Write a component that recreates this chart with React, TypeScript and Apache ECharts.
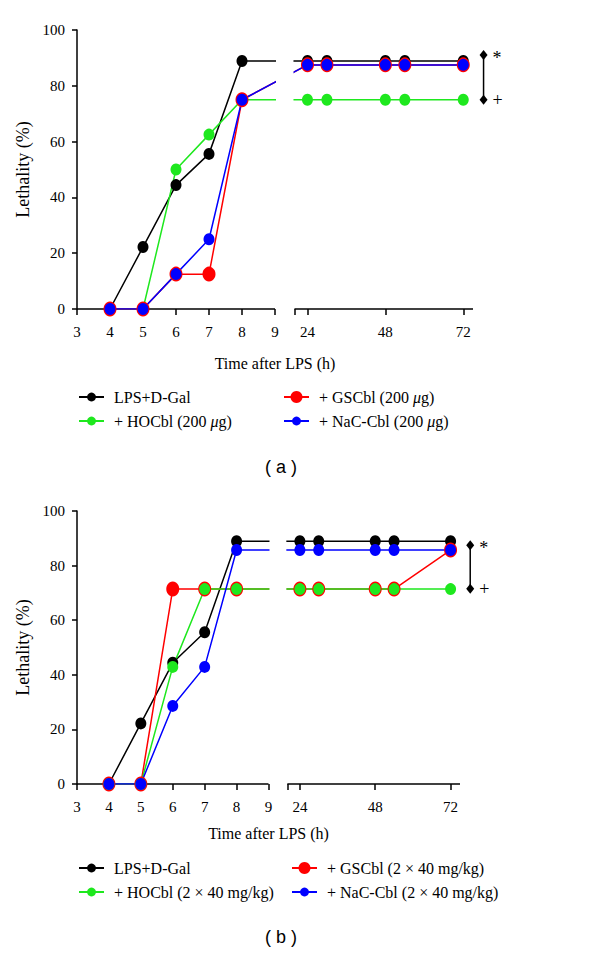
import React, { useEffect, useRef } from "react";
import * as echarts from "echarts";

// ---------- data ----------
const hours = [4, 5, 6, 7, 8, 24, 30, 48, 54, 72];
const xLeftTickLabels = [3, 4, 5, 6, 7, 8, 9];
const xRightTickLabels = [24, 48, 72];
const yTicks = [0, 20, 40, 60, 80, 100];

const namesA = ["LPS+D-Gal", "+ HOCbl (200 μg)", "+ GSCbl (200 μg)", "+ NaC-Cbl (200 μg)"];
const namesB = ["LPS+D-Gal", "+ HOCbl (2 × 40 mg/kg)", "+ GSCbl (2 × 40 mg/kg)", "+ NaC-Cbl (2 × 40 mg/kg)"];

// panel (a)
const aLpsDGal = [0, 22.2, 44.4, 55.6, 88.9, 88.9, 88.9, 88.9, 88.9, 88.9];
const aHOCbl = [0, 0, 50, 62.5, 75, 75, 75, 75, 75, 75];
const aGSCbl = [0, 0, 12.5, 12.5, 75, 87.5, 87.5, 87.5, 87.5, 87.5];
const aNaCCbl = [0, 0, 12.5, 25, 75, 87.5, 87.5, 87.5, 87.5, 87.5];
const aBracket = [91, 75];

// panel (b)
const bLpsDGal = [0, 22.2, 44.4, 55.6, 88.9, 88.9, 88.9, 88.9, 88.9, 88.9];
const bGSCbl = [0, 0, 71.4, 71.4, 71.4, 71.4, 71.4, 71.4, 71.4, 85.7];
const bHOCbl = [0, 0, 42.9, 71.4, 71.4, 71.4, 71.4, 71.4, 71.4, 71.4];
const bNaCCbl = [0, 0, 28.6, 42.9, 85.7, 85.7, 85.7, 85.7, 85.7, 85.7];
const bBracket = [87.5, 71.5];
const bracketMarks = ["*", "+"];

// ---------- broken axis mapping (hours -> axis units) ----------
const LEFT_MIN_H = 3;
const LEFT_MAX_H = 9;
const RIGHT_START_H = 20;
const RIGHT_END_H = 75;
const RIGHT_START_U = 9.59;
const AXIS_MAX_U = 15;
const BRACKET_U = 15.32;
const toU = (h: number) =>
  h <= LEFT_MAX_H
    ? h
    : RIGHT_START_U + ((h - RIGHT_START_H) * (AXIS_MAX_U - RIGHT_START_U)) / (RIGHT_END_H - RIGHT_START_H);

const SERIF = "'Liberation Serif', 'Times New Roman', Times, serif";
const BLACK = "#000000";
const GREEN = "#1ee81e";
const RED = "#ff0000";
const BLUE = "#0000ff";

const labelPairs = [...xLeftTickLabels, ...xRightTickLabels].map((h) => ({ u: toU(h), h }));
const labelFormatter = (v: number) => {
  let best = labelPairs[0];
  for (const p of labelPairs) if (Math.abs(p.u - v) < Math.abs(best.u - v)) best = p;
  return String(best.h);
};
const tickValues = [...xLeftTickLabels.map(toU), RIGHT_START_U, ...xRightTickLabels.map(toU)];

function lineSeries(name: string, vals: number[], color: string, gi: number, big = false) {
  return {
    type: "line",
    name,
    xAxisIndex: gi,
    yAxisIndex: gi,
    data: hours.map((h, i) => [toU(h), vals[i]]),
    symbol: "circle",
    symbolSize: big ? [13, 15] : [11, 12],
    showSymbol: true,
    lineStyle: { color, width: 1.5 },
    itemStyle: { color },
    color,
    silent: true,
  };
}

function xAxis(gi: number, nameGap: number) {
  return {
    type: "value",
    gridIndex: gi,
    min: LEFT_MIN_H,
    max: AXIS_MAX_U,
    axisLine: { show: false },
    splitLine: { show: false },
    axisTick: {
      show: true,
      customValues: tickValues,
      length: 6,
      lineStyle: { color: BLACK, width: 1.5 },
    },
    axisLabel: {
      show: true,
      customValues: labelPairs.map((p) => p.u),
      formatter: labelFormatter,
      fontFamily: SERIF,
      fontSize: 15,
      color: BLACK,
      margin: 15,
    },
    name: "Time after LPS (h)",
    nameLocation: "middle",
    nameGap,
    nameTextStyle: { fontFamily: SERIF, fontSize: 16, color: BLACK },
  };
}

function yAxis(gi: number) {
  return {
    type: "value",
    gridIndex: gi,
    min: 0,
    max: 100,
    interval: 20,
    axisLine: { show: true, lineStyle: { color: BLACK, width: 1.5 } },
    axisTick: { show: true, length: 5, lineStyle: { color: BLACK, width: 1.5 } },
    splitLine: { show: false },
    axisLabel: {
      fontFamily: SERIF,
      fontSize: 15,
      color: BLACK,
      margin: 12,
      customValues: yTicks,
    },
    name: "Lethality (%)",
    nameLocation: "middle",
    nameRotate: 90,
    nameGap: 42,
    nameTextStyle: { fontFamily: SERIF, fontSize: 18, color: BLACK },
  };
}

const legendFormatter = (name: string) => name.replace("μ", "{i|μ}");

function legendItem(name: string, left: number, centerY: number, big: boolean) {
  return {
    data: [name],
    left,
    top: centerY - 9,
    orient: "horizontal",
    padding: 0,
    itemWidth: 25,
    itemHeight: big ? 15 : 11,
    selectedMode: false,
    formatter: legendFormatter,
    textStyle: {
      fontFamily: SERIF,
      fontSize: 16,
      lineHeight: 18,
      color: BLACK,
      padding: [0, 0, 0, 5],
      rich: {
        i: { fontFamily: SERIF, fontSize: 16, lineHeight: 18, fontStyle: "italic", color: BLACK },
      },
    },
  };
}

export default function App() {
  const ref = useRef<HTMLDivElement>(null);

  useEffect(() => {
    document.body.style.margin = "0";
    const chart = echarts.init(ref.current!, null, { renderer: "svg" });
    const option: any = {
      animation: false,
      backgroundColor: "#ffffff",
      textStyle: { fontFamily: SERIF },
      grid: [
        { left: 77, top: 30, width: 396, height: 279 },
        { left: 77, top: 511, width: 383, height: 273 },
      ],
      xAxis: [xAxis(0, 46), xAxis(1, 41)],
      yAxis: [yAxis(0), yAxis(1)],
      legend: [
        legendItem(namesA[0], 78, 397, false),
        legendItem(namesA[1], 78, 421, false),
        legendItem(namesA[2], 283, 397, true),
        legendItem(namesA[3], 283, 421, false),
        legendItem(namesB[0], 78, 868, false),
        legendItem(namesB[1], 78, 892, false),
        legendItem(namesB[2], 291, 868, true),
        legendItem(namesB[3], 291, 892, false),
      ],
      series: [
        lineSeries(namesA[0], aLpsDGal, BLACK, 0),
        lineSeries(namesA[1], aHOCbl, GREEN, 0),
        lineSeries(namesA[2], aGSCbl, RED, 0, true),
        lineSeries(namesA[3], aNaCCbl, BLUE, 0),
        lineSeries(namesB[0], bLpsDGal, BLACK, 1),
        lineSeries(namesB[2], bGSCbl, RED, 1, true),
        lineSeries(namesB[1], bHOCbl, GREEN, 1),
        lineSeries(namesB[3], bNaCCbl, BLUE, 1),
      ],
    };
    chart.setOption(option);

    const graphics: any[] = [];
    const brackets = [aBracket, bBracket];
    [0, 1].forEach((gi) => {
      const [x0, y0] = chart.convertToPixel({ gridIndex: gi }, [LEFT_MIN_H, 0]);
      const [x9] = chart.convertToPixel({ gridIndex: gi }, [LEFT_MAX_H, 0]);
      const [xr] = chart.convertToPixel({ gridIndex: gi }, [RIGHT_START_U, 0]);
      const [xe, yTop] = chart.convertToPixel({ gridIndex: gi }, [AXIS_MAX_U, 100]);
      graphics.push({
        type: "rect",
        z: 50,
        silent: true,
        shape: { x: x9 + 1, y: yTop - 5, width: xr - x9 - 2, height: y0 - yTop + 4 },
        style: { fill: "#ffffff" },
      });
      graphics.push({
        type: "line",
        z: 1,
        silent: true,
        shape: { x1: x0, y1: y0, x2: x9, y2: y0 },
        style: { stroke: BLACK, lineWidth: 1.5 },
      });
      graphics.push({
        type: "line",
        z: 1,
        silent: true,
        shape: { x1: xr, y1: y0, x2: xe, y2: y0 },
        style: { stroke: BLACK, lineWidth: 1.5 },
      });
      // significance bracket
      const pts = brackets[gi].map((v) => chart.convertToPixel({ gridIndex: gi }, [BRACKET_U, v]));
      graphics.push({
        type: "line",
        z: 60,
        silent: true,
        shape: { x1: pts[0][0], y1: pts[0][1], x2: pts[1][0], y2: pts[1][1] },
        style: { stroke: BLACK, lineWidth: 1.5 },
      });
      pts.forEach((p, k) => {
        graphics.push({
          type: "polygon",
          z: 61,
          silent: true,
          shape: {
            points: [
              [p[0], p[1] - 5],
              [p[0] + 4, p[1]],
              [p[0], p[1] + 5],
              [p[0] - 4, p[1]],
            ],
          },
          style: { fill: BLACK },
        });
        graphics.push({
          type: "text",
          z: 61,
          silent: true,
          x: p[0] + 9,
          y: p[1] + (k === 0 ? 3 : 0),
          style: {
            text: bracketMarks[k],
            fontFamily: SERIF,
            fontSize: 18,
            fill: BLACK,
            align: "left",
            verticalAlign: "middle",
          },
        });
      });
    });
    graphics.push({
      type: "text",
      x: 281,
      y: 467,
      style: {
        text: "( a )",
        fontFamily: "'Liberation Sans', Arial, sans-serif",
        fontSize: 18,
        fill: BLACK,
        align: "center",
        verticalAlign: "middle",
      },
    });
    graphics.push({
      type: "text",
      x: 281,
      y: 937,
      style: {
        text: "( b )",
        fontFamily: "'Liberation Sans', Arial, sans-serif",
        fontSize: 18,
        fill: BLACK,
        align: "center",
        verticalAlign: "middle",
      },
    });
    chart.setOption({ graphic: graphics });

    return () => chart.dispose();
  }, []);

  return (
    <div
      ref={ref}
      style={{ position: "absolute", left: 0, top: 0, width: 600, height: 954, background: "#fff" }}
    />
  );
}
